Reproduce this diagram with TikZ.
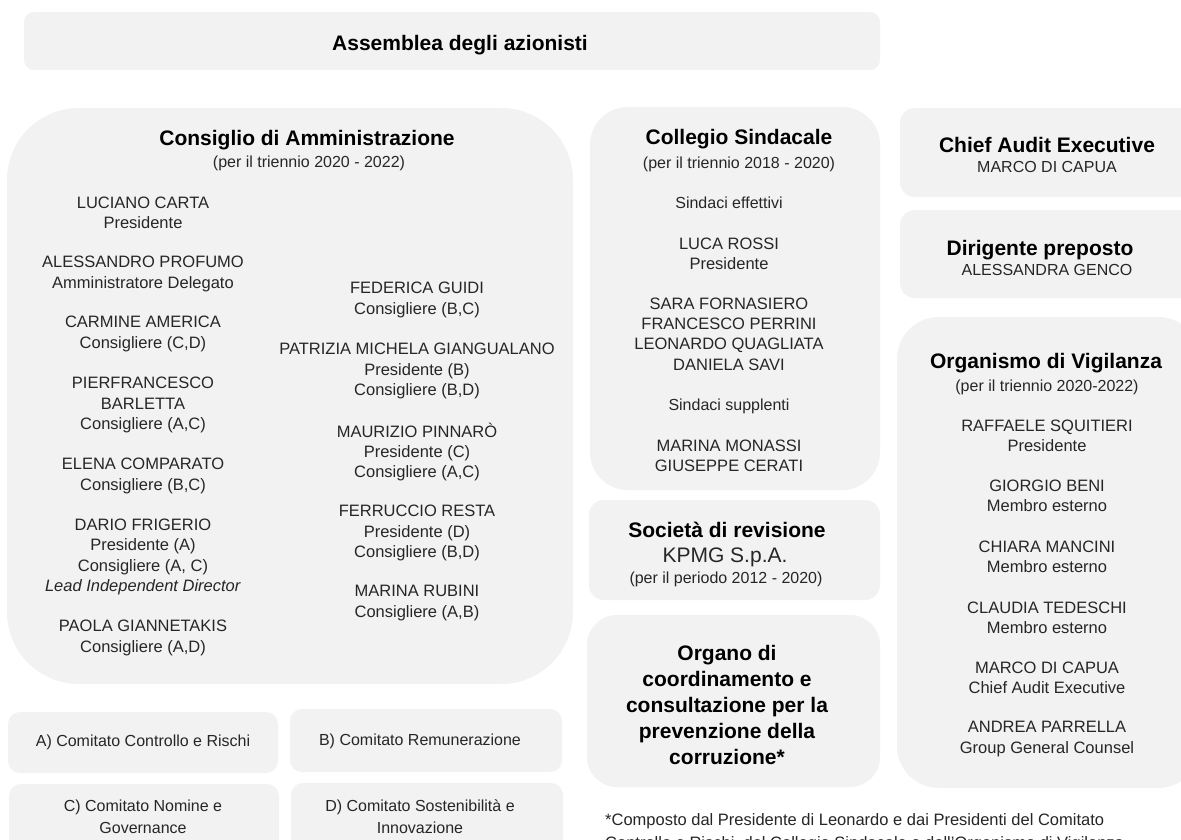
\documentclass[tikz,border=0pt]{standalone}
\usepackage{fontspec}
\setmainfont{Liberation Sans}
\definecolor{boxgray}{HTML}{F2F2F2}
\definecolor{txt}{HTML}{262626}
\begin{document}
\begin{tikzpicture}[x=1pt,y=-1pt,
  box/.style={fill=boxgray, draw=none, inner sep=0pt},
  nm/.style={font=\fontsize{16.5}{20.3}\selectfont, align=center, text=txt, inner sep=0pt},
  ttl/.style={font=\bfseries\fontsize{21}{26}\selectfont, align=center, text=black, inner sep=0pt},
  sub/.style={font=\fontsize{16}{20}\selectfont, align=center, text=txt, inner sep=0pt}]
\clip (0,0) rectangle (1181,840);
\fill[white] (0,0) rectangle (1181,840);
% boxes
\node[box, rounded corners=10pt, minimum width=856pt, minimum height=58pt] (assbox) at (452,41) {};
\node[box, rounded corners=72pt, minimum width=566pt, minimum height=576pt] (cdabox) at (290,396) {};
\node[box, rounded corners=38pt, minimum width=290pt, minimum height=383pt] (colbox) at (735,298.5) {};
\node[box, rounded corners=15pt, minimum width=291pt, minimum height=100pt] (socbox) at (734.5,550) {};
\node[box, rounded corners=30pt, minimum width=293pt, minimum height=172pt] (orgbox) at (733.5,701) {};
\node[box, rounded corners=15pt, minimum width=300pt, minimum height=89pt] (chfbox) at (1050,152.5) {};
\node[box, rounded corners=15pt, minimum width=300pt, minimum height=88pt] (dirbox) at (1050,254) {};
\node[box, rounded corners=42pt, minimum width=303pt, minimum height=471pt] (odvbox) at (1048.5,552.5) {};
\node[box, rounded corners=12pt, minimum width=270pt, minimum height=61pt] (cabox) at (143,742.5) {};
\node[box, rounded corners=12pt, minimum width=272pt, minimum height=63pt] (cbbox) at (426,740.5) {};
\node[box, rounded corners=12pt, minimum width=270pt, minimum height=76pt] (ccbox) at (144,822) {};
\node[box, rounded corners=12pt, minimum width=272pt, minimum height=77pt] (cdbox) at (427,821.5) {};
% Assemblea
\node[ttl] (ass) at (460,45) {Assemblea degli azionisti};
% Consiglio di Amministrazione
\node[ttl] (cdat) at (307,140) {Consiglio di Amministrazione};
\node[sub] (cdas) at (309,163) {(per il triennio 2020 - 2022)};
\node[nm] (luciano) at (143,213) {LUCIANO CARTA\\Presidente};
\node[nm] (alessandro) at (143,274) {ALESSANDRO PROFUMO\\Amministratore Delegato};
\node[nm] (carmine) at (143,334) {CARMINE AMERICA\\Consigliere (C,D)};
\node[nm] (pierfr) at (143,405) {PIERFRANCESCO\\BARLETTA\\Consigliere (A,C)};
\node[nm] (elena) at (143,476) {ELENA COMPARATO\\Consigliere (B,C)};
\node[nm] (dario) at (143,557) {DARIO FRIGERIO\\Presidente (A)\\Consigliere (A, C)\\\textit{Lead Independent Director}};
\node[nm] (paola) at (143,638) {PAOLA GIANNETAKIS\\Consigliere (A,D)};
\node[nm] (federica) at (417,300) {FEDERICA GUIDI\\Consigliere (B,C)};
\node[nm] (patrizia) at (417,371) {PATRIZIA MICHELA GIANGUALANO\\Presidente (B)\\Consigliere (B,D)};
\node[nm] (maurizio) at (417,452) {MAURIZIO PINNARÒ\\Presidente (C)\\Consigliere (A,C)};
\node[nm] (ferruccio) at (417,533) {FERRUCCIO RESTA\\Presidente (D)\\Consigliere (B,D)};
\node[nm] (marina) at (417,603) {MARINA RUBINI\\Consigliere (A,B)};
% Collegio Sindacale
\node[ttl] (colt) at (739,139) {Collegio Sindacale};
\node[sub] (cols) at (739,164) {(per il triennio 2018 - 2020)};
\node[sub] (eff) at (729,203) {Sindaci effettivi};
\node[nm] (luca) at (729,254) {LUCA ROSSI\\Presidente};
\node[nm] (sara) at (729,334) {SARA FORNASIERO\\FRANCESCO PERRINI\\LEONARDO QUAGLIATA\\DANIELA SAVI};
\node[sub] (supp) at (729,406) {Sindaci supplenti};
\node[nm] (monassi) at (729,456) {MARINA MONASSI\\GIUSEPPE CERATI};
% Societa di revisione
\node[ttl] (soct) at (727,530) {Società di revisione};
\node[font=\fontsize{21}{24}\selectfont, text=txt, inner sep=0pt] (kpmg) at (725,557) {KPMG S.p.A.};
\node[sub] (socs) at (726,579) {(per il periodo 2012 - 2020)};
% Organo
\node[ttl] (organo) at (727,705) {Organo di\\coordinamento e\\consultazione per la\\prevenzione della\\corruzione*};
% Chief Audit Executive
\node[ttl] (chft) at (1047,145) {Chief Audit Executive};
\node[sub] (chfn) at (1047,167) {MARCO DI CAPUA};
% Dirigente preposto
\node[ttl] (dirt) at (1040,250) {Dirigente preposto};
\node[sub] (dirn) at (1047,270) {ALESSANDRA GENCO};
% Organismo di Vigilanza
\node[ttl] (odvt) at (1046,363) {Organismo di Vigilanza};
\node[sub] (odvs) at (1047,387) {(per il triennio 2020-2022)};
\node[nm] (raffaele) at (1047,436) {RAFFAELE SQUITIERI\\Presidente};
\node[nm] (giorgio) at (1047,496) {GIORGIO BENI\\Membro esterno};
\node[nm] (chiara) at (1047,557) {CHIARA MANCINI\\Membro esterno};
\node[nm] (claudia) at (1047,618) {CLAUDIA TEDESCHI\\Membro esterno};
\node[nm] (marco) at (1047,678) {MARCO DI CAPUA\\Chief Audit Executive};
\node[nm] (andrea) at (1047,739) {ANDREA PARRELLA\\Group General Counsel};
% Comitati
\node[sub] (ca) at (143,742) {A) Comitato Controllo e Rischi};
\node[sub] (cb) at (420,741) {B) Comitato Remunerazione};
\node[sub, font=\fontsize{16}{22}\selectfont] (cc) at (143,817) {C) Comitato Nomine e\\Governance};
\node[sub, font=\fontsize{16}{22}\selectfont] (cd) at (420,817) {D) Comitato Sostenibilità e\\Innovazione};
% footnote
\node[anchor=north west, align=left, inner sep=0pt, text=txt, font=\fontsize{16.5}{23}\selectfont] (note) at (605,813) {*Composto dal Presidente di Leonardo e dai Presidenti del Comitato\\Controllo e Rischi, del Collegio Sindacale e dell’Organismo di Vigilanza};
\end{tikzpicture}
\end{document}
